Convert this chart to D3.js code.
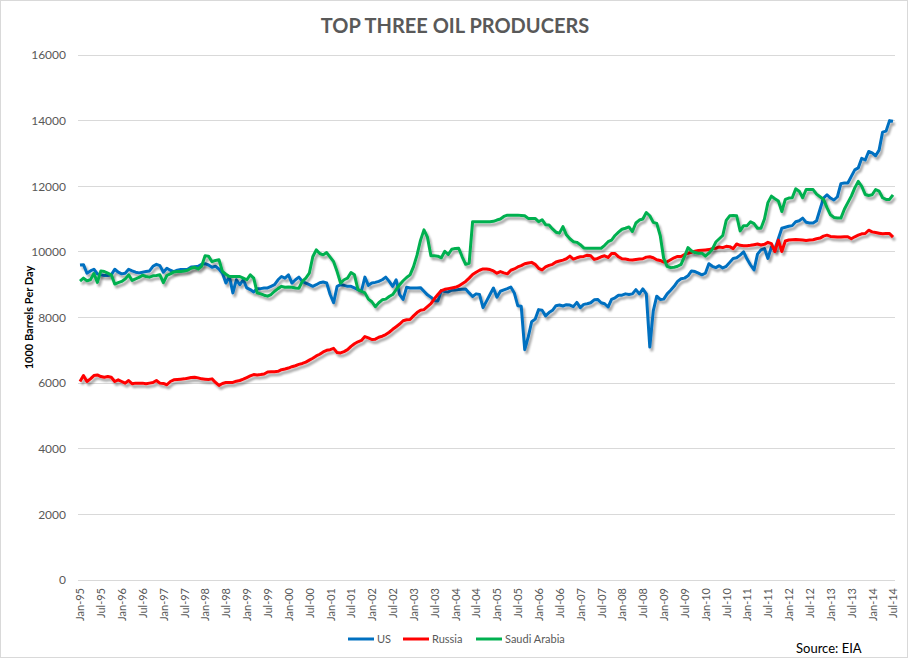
<!DOCTYPE html>
<html>
<head>
<meta charset="utf-8">
<script src="https://cdn.jsdelivr.net/npm/d3@7"></script>
<style>
  body { margin: 0; background: #fff; }
  svg { display: block; font-family: Lato, "Open Sans", sans-serif; }
</style>
</head>
<body>
<svg id="chart" width="910" height="660"></svg>
<script>
// monthly production, 1000 barrels per day, Jan-95 .. Jul-14
const us = [
  9600, 9610, 9350, 9420, 9470, 9330, 9300, 9280, 9280, 9300, 9470, 9380,
  9330, 9350, 9470, 9420, 9380, 9360, 9380, 9400, 9420, 9560, 9620, 9580,
  9380, 9500, 9440, 9400, 9440, 9460, 9460, 9470, 9540, 9550, 9560, 9620,
  9640, 9600, 9530, 9560, 9480, 9350, 9050, 9250, 8750, 9150, 9000, 9150,
  8900, 8850, 8780, 8880, 8880, 8900, 8900, 8950, 9000, 9150, 9250, 9200,
  9300, 9050, 9150, 9230, 9100, 9050, 9000, 8950, 9000, 9060, 9080, 9050,
  8700, 8450, 8950, 9000, 8980, 8950, 8950, 8900, 8850, 8800, 9230, 8980,
  9050, 9070, 9100, 9150, 9230, 9100, 8950, 9150, 8700, 8550, 8920, 8900,
  8900, 8900, 8910, 8800, 8690, 8620, 8520, 8500, 8820, 8790, 8780, 8830,
  8840, 8850, 8860, 8870, 8750, 8640, 8720, 8700, 8300, 8500, 8700, 8900,
  8620, 8800, 8840, 8880, 8930, 8750, 8360, 8340, 7020, 7400, 7870, 7950,
  8240, 8220, 8050, 8150, 8220, 8360, 8380, 8350, 8390, 8380, 8330, 8460,
  8300, 8400, 8420, 8450, 8540, 8550, 8450, 8420, 8320, 8550, 8600, 8680,
  8680, 8720, 8700, 8720, 8850, 8720, 8870, 8720, 7100, 8200, 8650, 8550,
  8560, 8720, 8830, 8950, 9100, 9180, 9200, 9270, 9420, 9400, 9350, 9300,
  9350, 9640, 9560, 9520, 9580, 9510, 9560, 9680, 9800, 9820, 9900, 10000,
  9780, 9600, 9450, 9930, 10060, 10100, 9800, 10150, 10080, 10400, 10720, 10750,
  10780, 10800, 10920, 10950, 11030, 10900, 10880, 10880, 10950, 11300, 11640, 11740,
  11640, 11580, 11680, 12080, 12100, 12100, 12300, 12500, 12560, 12850, 12800, 13060,
  13020, 12930, 13100, 13650, 13680, 14000, 13980
];
const russia = [
  6050, 6230, 6050, 6130, 6230, 6250, 6200, 6180, 6200, 6180, 6050, 6100,
  6050, 6000, 6080, 5980, 6000, 6000, 6000, 5980, 6000, 6020, 6080, 6000,
  5990, 5950, 6050, 6100, 6110, 6120, 6130, 6150, 6170, 6180, 6160, 6130,
  6120, 6110, 6130, 6020, 5930, 5990, 6020, 6020, 6020, 6060, 6080, 6120,
  6170, 6220, 6260, 6250, 6260, 6280, 6340, 6350, 6350, 6360, 6410, 6430,
  6460, 6500, 6530, 6570, 6600, 6640, 6700, 6760, 6830, 6880, 6950, 7000,
  7020, 7060, 6930, 6920, 6960, 7020, 7120, 7200, 7260, 7300, 7420, 7380,
  7330, 7340, 7400, 7430, 7480, 7550, 7640, 7720, 7800, 7900, 7930, 7940,
  8050, 8150, 8220, 8240, 8330, 8420, 8570, 8700, 8820, 8860, 8880, 8900,
  8920, 8960, 9030, 9100, 9200, 9310, 9380, 9440, 9480, 9480, 9460, 9420,
  9350, 9400, 9360, 9330, 9440, 9480, 9540, 9580, 9640, 9660, 9680, 9620,
  9500, 9450, 9540, 9590, 9620, 9690, 9720, 9750, 9790, 9870, 9780, 9820,
  9850, 9860, 9900, 9880, 9770, 9800, 9850, 9880, 9830, 9950, 9950, 9850,
  9790, 9780, 9760, 9750, 9770, 9780, 9790, 9840, 9850, 9820, 9760, 9740,
  9690, 9700, 9760, 9820, 9860, 9860, 9920, 9960, 9990, 10020, 10040, 10050,
  10060, 10070, 10100, 10110, 10150, 10130, 10170, 10160, 10100, 10240, 10200, 10190,
  10190, 10200, 10220, 10240, 10210, 10230, 10290, 10250, 10010, 10360, 10010, 10330,
  10360, 10370, 10380, 10370, 10360, 10350, 10360, 10370, 10400, 10420, 10480, 10510,
  10470, 10460, 10450, 10450, 10460, 10460, 10400, 10460, 10510, 10550, 10560, 10660,
  10610, 10590, 10570, 10550, 10560, 10560, 10450
];
const saudi = [
  9110, 9200, 9120, 9150, 9340, 9070, 9420, 9400, 9350, 9300, 9020, 9060,
  9100, 9170, 9300, 9130, 9180, 9220, 9290, 9250, 9230, 9270, 9280, 9300,
  9060, 9280, 9330, 9390, 9400, 9400, 9420, 9440, 9500, 9530, 9480, 9560,
  9880, 9870, 9700, 9740, 9760, 9400, 9320, 9250, 9250, 9250, 9250, 9200,
  9150, 9300, 9200, 8750, 8720, 8680, 8650, 8700, 8800, 8880, 8950, 8920,
  8930, 8920, 8900, 8890, 9100, 9200, 9350, 9850, 10060, 9950, 9910, 9980,
  9840, 9700, 9400, 9050, 9150, 9200, 9370, 9300, 8850, 8800, 8750, 8560,
  8480, 8330, 8450, 8540, 8560, 8640, 8700, 8850, 9000, 9120, 9220, 9300,
  9550, 9900, 10350, 10670, 10450, 9880, 9880, 9870, 9820, 10020, 9920, 10080,
  10100, 10110, 9850, 9620, 9650, 10920, 10920, 10920, 10920, 10920, 10920, 10930,
  10970, 11000, 11080, 11120, 11120, 11120, 11120, 11110, 11100, 11020, 11020, 11020,
  10920, 10980, 10830, 10820, 10700, 10600, 10570, 10770, 10520, 10400, 10310, 10290,
  10220, 10120, 10110, 10110, 10110, 10110, 10110, 10200, 10310, 10360, 10500, 10600,
  10690, 10720, 10760, 10620, 10880, 10970, 11000, 11200, 11100, 10900, 10870, 10500,
  9800, 9560, 9520, 9530, 9560, 9620, 9860, 10130, 10030, 9980, 9960, 9960,
  9870, 9960, 10080, 10300, 10400, 10500, 10960, 11100, 11110, 11100, 10640, 10800,
  10800, 10920, 10860, 10720, 10720, 11000, 11500, 11700, 11620, 11550, 11230, 11600,
  11640, 11650, 11920, 11850, 11650, 11900, 11900, 11900, 11760, 11680, 11600, 11350,
  11130, 11050, 11030, 11030, 11300, 11500, 11700, 11950, 12150, 12000, 11750, 11720,
  11740, 11900, 11850, 11650, 11600, 11600, 11740
];
const tickLabels = [
  "Jan-95", "Jul-95", "Jan-96", "Jul-96", "Jan-97", "Jul-97", "Jan-98", "Jul-98",
  "Jan-99", "Jul-99", "Jan-00", "Jul-00", "Jan-01", "Jul-01", "Jan-02", "Jul-02",
  "Jan-03", "Jul-03", "Jan-04", "Jul-04", "Jan-05", "Jul-05", "Jan-06", "Jul-06",
  "Jan-07", "Jul-07", "Jan-08", "Jul-08", "Jan-09", "Jul-09", "Jan-10", "Jul-10",
  "Jan-11", "Jul-11", "Jan-12", "Jul-12", "Jan-13", "Jul-13", "Jan-14", "Jul-14"
];
const seriesNames = ["US", "Russia", "Saudi Arabia"];
const seriesColors = ["#0070C0", "#FF0000", "#00B050"];
const yTicks = [0, 2000, 4000, 6000, 8000, 10000, 12000, 14000, 16000];

const svg = d3.select("#chart");
const W = 910, H = 660;

svg.append("rect")
  .attr("x", 0.5).attr("y", 0.5)
  .attr("width", W - 3).attr("height", H - 3)
  .attr("fill", "#fff").attr("stroke", "#d9d9d9");

const defs = svg.append("defs");
const shadow = defs.append("filter").attr("id", "shadow")
  .attr("x", "-5%").attr("y", "-5%").attr("width", "110%").attr("height", "120%");
shadow.append("feGaussianBlur").attr("in", "SourceAlpha").attr("stdDeviation", 1.3).attr("result", "blur");
shadow.append("feOffset").attr("in", "blur").attr("dx", 2).attr("dy", 2.5).attr("result", "off");
shadow.append("feComponentTransfer").attr("in", "off").attr("result", "soft")
  .append("feFuncA").attr("type", "linear").attr("slope", 0.35);
const merge = shadow.append("feMerge");
merge.append("feMergeNode").attr("in", "soft");
merge.append("feMergeNode").attr("in", "SourceGraphic");

const x = d3.scaleLinear().domain([0, us.length - 1]).range([80, 893]);
const y = d3.scaleLinear().domain([0, 16000]).range([580, 55]);

// gridlines
svg.append("g")
  .selectAll("line")
  .data(yTicks)
  .join("line")
  .attr("x1", 78).attr("x2", 895)
  .attr("y1", d => y(d)).attr("y2", d => y(d))
  .attr("stroke", "#d9d9d9").attr("stroke-width", 1)
  .attr("shape-rendering", "crispEdges");

// y axis labels
const yAxis = svg.append("g")
  .attr("transform", "translate(70,0)")
  .call(d3.axisLeft(y).tickValues(yTicks).tickSize(0).tickPadding(4).tickFormat(d3.format("d")));
yAxis.select(".domain").remove();
yAxis.selectAll("text")
  .attr("fill", "#595959")
  .attr("font-size", 12)
  .attr("font-family", "Lato, sans-serif");

// x axis labels
const xAxis = svg.append("g")
  .attr("transform", `translate(0,${y(0)})`)
  .call(d3.axisBottom(x)
    .tickValues(d3.range(0, us.length, 6))
    .tickSize(0)
    .tickFormat((d, i) => tickLabels[i]));
xAxis.select(".domain").remove();
xAxis.selectAll("text")
  .attr("fill", "#595959")
  .attr("font-size", 11)
  .attr("font-family", "Lato, sans-serif")
  .attr("text-anchor", "end")
  .attr("transform", "rotate(-90)")
  .attr("x", -8)
  .attr("y", 0)
  .attr("dy", "0.35em");

// series lines
const line = d3.line()
  .x((d, i) => x(i))
  .y(d => y(d));

svg.append("g")
  .selectAll("path")
  .data([us, russia, saudi])
  .join("path")
  .attr("d", d => line(d))
  .attr("fill", "none")
  .attr("stroke", (d, i) => seriesColors[i])
  .attr("stroke-width", 3)
  .attr("stroke-linejoin", "round")
  .attr("filter", "url(#shadow)");

// title
svg.append("text")
  .attr("x", 455).attr("y", 33)
  .attr("text-anchor", "middle")
  .attr("font-size", 20)
  .attr("font-weight", "bold")
  .attr("fill", "#595959")
  .text("TOP THREE OIL PRODUCERS");

// y axis title
svg.append("text")
  .attr("transform", `translate(33,${y(8000)}) rotate(-90)`)
  .attr("text-anchor", "middle")
  .attr("font-size", 11)
  .attr("font-weight", "bold")
  .attr("fill", "#000")
  .text("1000 Barrels Per Day");

// legend
const legendX = [348, 403, 476];
const legend = svg.append("g")
  .selectAll("g")
  .data(seriesNames)
  .join("g")
  .attr("transform", (d, i) => `translate(${legendX[i]},639)`);
legend.append("line")
  .attr("x1", 0).attr("x2", 26)
  .attr("stroke", (d, i) => seriesColors[i])
  .attr("stroke-width", 3);
legend.append("text")
  .attr("x", 29).attr("dy", "0.35em")
  .attr("font-size", 11)
  .attr("fill", "#595959")
  .text(d => d);

// source note
svg.append("text")
  .attr("x", 796).attr("y", 653)
  .attr("font-size", 13)
  .attr("fill", "#000")
  .text("Source: EIA");
</script>
</body>
</html>
